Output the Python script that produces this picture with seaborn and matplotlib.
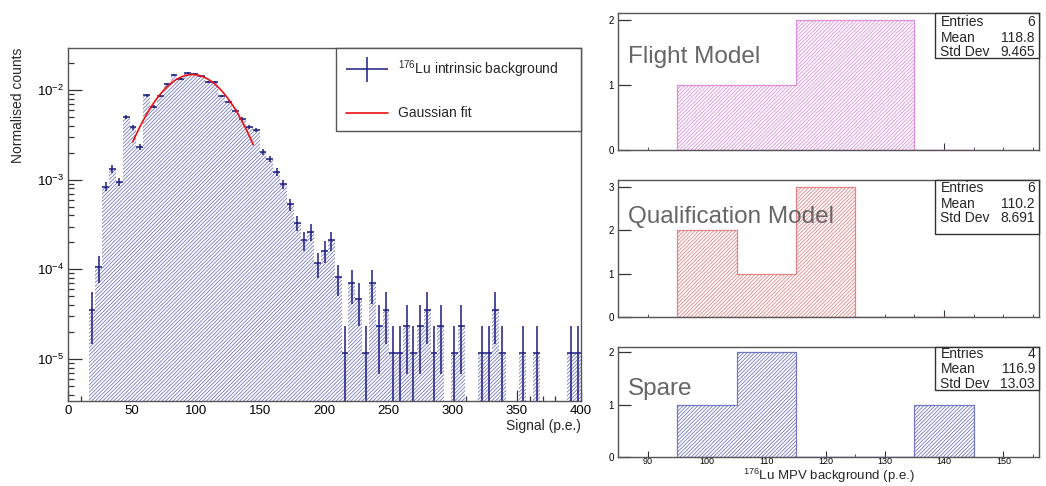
import numpy as np
import pandas as pd
import matplotlib
matplotlib.use("Agg")
import matplotlib.pyplot as plt
import seaborn as sns
from matplotlib.ticker import MultipleLocator, LogLocator, NullFormatter, FixedLocator
from matplotlib.legend_handler import HandlerErrorbar
from matplotlib.container import ErrorbarContainer

# ------------------------------------------------------------------ data
signal_min, signal_max, n_signal_bins = 0.0, 400.0, 75
lu_norm_counts = [
    0, 0, 0, 3.5e-5, 1.05e-4, 8.4e-4, 1.32e-3, 9.5e-4, 4.97e-3, 3.83e-3,
    2.34e-3, 8.75e-3, 6.55e-3, 8.6e-3, 1.17e-2, 1.48e-2, 1.34e-2, 1.56e-2, 1.50e-2, 1.43e-2,
    1.24e-2, 1.24e-2, 8.6e-3, 7.4e-3, 5.9e-3, 4.8e-3, 3.88e-3, 3.59e-3, 2.04e-3, 1.70e-3,
    1.23e-3, 8.95e-4, 5.3e-4, 3.28e-4, 2.1e-4, 2.64e-4, 1.17e-4, 1.62e-4, 2.1e-4, 8.2e-5,
    1.17e-5, 7.0e-5, 4.7e-5, 1.17e-5, 7.0e-5, 2.34e-5, 3.5e-5, 1.17e-5, 1.17e-5, 2.34e-5,
    1.17e-5, 2.34e-5, 3.5e-5, 1.17e-5, 2.34e-5, 0, 1.17e-5, 2.34e-5, 0, 0,
    1.17e-5, 1.17e-5, 3.5e-5, 1.17e-5, 0, 0, 1.17e-5, 0, 1.17e-5, 0,
    0, 0, 0, 1.17e-5, 1.17e-5,
]
single_event_weight = 1.17e-5          # normalised weight of one event (Poisson errors)
fit_amplitude, fit_mean, fit_sigma = 0.0149, 97.0, 25.0
fit_range = (50.5, 144.5)

mpv_bin_lo, mpv_bin_hi, mpv_bin_width = 95, 145, 10
fm_counts = [1, 1, 2, 2, 0]
qm_counts = [2, 1, 3, 0, 0]
spare_counts = [1, 2, 0, 0, 1]
panel_names = ["Flight Model", "Qualification Model", "Spare"]
panel_stats = [("6", "118.8", "9.465"), ("6", "110.2", "8.691"), ("4", "116.9", "13.03")]

# ------------------------------------------------------------------ style
sns.set_style("ticks")
plt.rcParams["font.family"] = ["Liberation Sans", "DejaVu Sans"]
plt.rcParams["mathtext.fontset"] = "custom"
plt.rcParams["mathtext.rm"] = "Liberation Sans"
plt.rcParams["mathtext.it"] = "Liberation Sans:italic"
plt.rcParams["mathtext.bf"] = "Liberation Sans:bold"
plt.rcParams["hatch.linewidth"] = 0.6
plt.rcParams["axes.edgecolor"] = "#555555"
plt.rcParams["axes.linewidth"] = 1.0
plt.rcParams["xtick.color"] = "#333333"
plt.rcParams["ytick.color"] = "#333333"

W, H = 1046, 486
fig = plt.figure(figsize=(W / 100, H / 100), dpi=100)
HATCH = "/" * 9

def px_axes(left, top, right, bottom):
    return fig.add_axes([left / W, 1 - bottom / H, (right - left) / W, (bottom - top) / H])

# ------------------------------------------------------------------ left panel
ax = px_axes(68, 48, 581, 401)
edges = np.linspace(signal_min, signal_max, n_signal_bins + 1)
centers = 0.5 * (edges[:-1] + edges[1:])
bw = edges[1] - edges[0]
vals = np.array(lu_norm_counts, dtype=float)
df = pd.DataFrame({"signal": centers, "w": vals})

sns.histplot(data=df, x="signal", weights="w", bins=n_signal_bins,
             binrange=(signal_min, signal_max), ax=ax, element="bars",
             fill=True, shrink=1, facecolor="white", edgecolor="#7478bf",
             hatch=HATCH, linewidth=0, alpha=1)
ax.set_yscale("log")

nz = vals > 0
err = np.sqrt(vals[nz] * single_event_weight)
low = np.minimum(err, vals[nz] - 1e-8)
eb = ax.errorbar(centers[nz], vals[nz], xerr=bw / 2, yerr=[low, err], fmt="none",
                 ecolor="#1c1c80", elinewidth=1.1, capsize=0,
                 label="$^{176}$Lu intrinsic background")

xf = np.linspace(fit_range[0], fit_range[1], 200)
yf = fit_amplitude * np.exp(-0.5 * ((xf - fit_mean) / fit_sigma) ** 2)
fit_line, = ax.plot(xf, yf, color="#ee1111", lw=1.2, label="Gaussian fit")

ax.set_xlim(signal_min, signal_max)
ax.set_ylim(3.4e-6, 2.95e-2)
ax.xaxis.set_major_locator(MultipleLocator(50))
ax.xaxis.set_minor_locator(MultipleLocator(10))
ax.yaxis.set_major_locator(LogLocator(base=10, numticks=10))
ax.yaxis.set_minor_locator(LogLocator(base=10, subs=np.arange(2, 10), numticks=10))
ax.yaxis.set_minor_formatter(NullFormatter())
ax.tick_params(axis="both", which="both", direction="in", labelsize=9.5, colors="#333333",
               labelcolor="black")
ax.tick_params(axis="x", which="major", length=8, width=0.9, pad=3)
ax.tick_params(axis="x", which="minor", length=3.8, width=0.9)
ax.tick_params(axis="y", which="major", length=10, width=0.9, pad=3)
ax.tick_params(axis="y", which="minor", length=4, width=0.9)
ax.set_xlabel("Signal (p.e.)", fontsize=10, loc="right")
ax.xaxis.set_label_coords(1.0, -0.052)
ax.set_ylabel("Normalised counts", fontsize=10, loc="top")
ax.yaxis.set_label_coords(-0.083, 1.0)
for s in ax.spines.values():
    s.set_visible(True)

leg = ax.legend(handles=[eb, fit_line], loc="upper left",
                bbox_to_anchor=(0.5224, 0.751, 0.4776, 0.249),
                handler_map={ErrorbarContainer: HandlerErrorbar(xerr_size=1.5, yerr_size=0.9)},
                mode="expand", borderaxespad=0, fontsize=10, frameon=True, fancybox=False,
                edgecolor="#555555", framealpha=1, handlelength=3.0, handletextpad=0.7,
                labelspacing=1.9, borderpad=0.75)
leg.get_frame().set_linewidth(1.0)

# ------------------------------------------------------------------ right panels
panel_px = [(618, 13, 1039, 150), (618, 180, 1039, 317), (618, 347, 1039, 457)]
panel_counts = [fm_counts, qm_counts, spare_counts]
panel_colors = ["#dd8fdd", "#e08585", "#7478c0"]
panel_ymax = [2.1, 3.15, 2.1]
label_base = [0.636, 0.685, 0.564]
stat_box_h = [45, 54, 43]
stat_rows = [[8.5, 24.5, 39.5], [8.5, 23.5, 38.5], [7.5, 22.0, 36.5]]
mpv_centers = np.arange(mpv_bin_lo + mpv_bin_width / 2, mpv_bin_hi, mpv_bin_width)

for i, (box, counts, col) in enumerate(zip(panel_px, panel_counts, panel_colors)):
    a = px_axes(*box)
    pdf = pd.DataFrame({"mpv": mpv_centers, "n": counts})
    sns.histplot(data=pdf, x="mpv", weights="n", binwidth=mpv_bin_width,
                 binrange=(mpv_bin_lo, mpv_bin_hi), ax=a, element="step",
                 fill=True, facecolor="white", edgecolor=col, hatch=HATCH,
                 linewidth=0.9, alpha=1)
    a.set_xlim(85, 156)
    a.set_ylim(0, panel_ymax[i])
    a.yaxis.set_major_locator(MultipleLocator(1))
    a.tick_params(axis="both", which="both", direction="in", labelsize=7, colors="#333333",
                  labelcolor="black")
    a.tick_params(axis="y", which="major", length=9, width=0.9, pad=3)
    a.set_ylabel("")
    a.set_xlabel("")
    for s in a.spines.values():
        s.set_visible(True)
    if i < 2:
        a.xaxis.set_major_locator(FixedLocator([100, 120, 140]))
        a.xaxis.set_minor_locator(MultipleLocator(5))
        a.tick_params(axis="x", which="major", length=5, labelbottom=False)
        a.tick_params(axis="x", which="minor", length=2.5)
    else:
        a.xaxis.set_major_locator(MultipleLocator(10))
        a.xaxis.set_minor_locator(MultipleLocator(5))
        a.tick_params(axis="x", which="major", length=4, pad=0, labelsize=6.5)
        a.tick_params(axis="x", which="minor", length=2.5)
        a.set_xlabel("$^{176}$Lu MPV background (p.e.)", fontsize=9.5)
        a.xaxis.set_label_coords(0.5, -0.088)
    a.text(0.023, label_base[i], panel_names[i], transform=a.transAxes, fontsize=17.5,
           color="#666666", va="baseline", ha="left")

    # stats box
    bx0, bx1 = 935, 1039
    top = box[1]
    bh = stat_box_h[i]
    fig.patches.append(plt.Rectangle((bx0 / W, 1 - (top + bh) / H), (bx1 - bx0) / W, bh / H,
                                     transform=fig.transFigure, facecolor="white",
                                     edgecolor="#333333", lw=1.0, zorder=5))
    names = ["Entries", "Mean", "Std Dev"]
    for r in range(3):
        yc = 1 - (top + stat_rows[i][r]) / H
        fig.text(940.5 / W, yc, names[r], fontsize=10, va="center", ha="left", zorder=6)
        fig.text(1035 / W, yc, panel_stats[i][r], fontsize=10, va="center", ha="right", zorder=6)

fig.savefig("out.png", dpi=100)
